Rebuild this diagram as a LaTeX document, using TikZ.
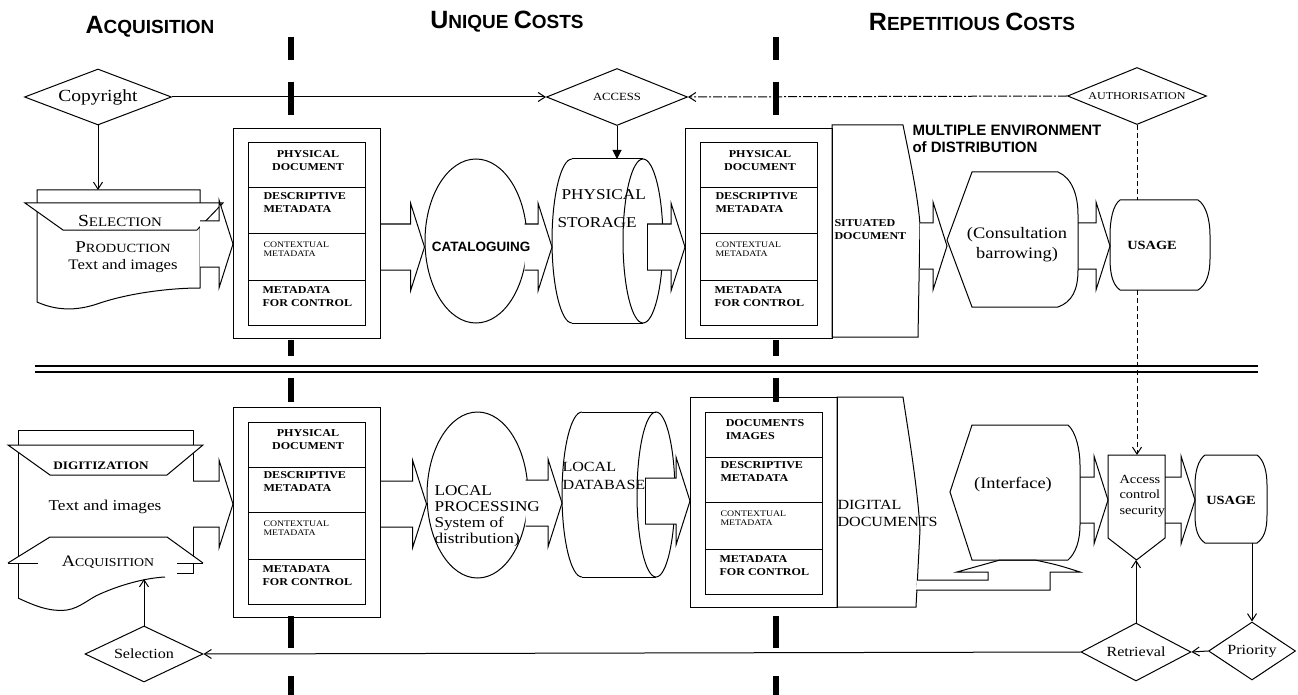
\documentclass[tikz,border=0pt]{standalone}
\usepackage{fontspec}
\setmainfont{Liberation Serif}[FakeStretch=1.15]
\setsansfont{Liberation Sans}
\usetikzlibrary{arrows.meta,calc,shapes.geometric}

\newcommand{\fsz}[2]{\fontsize{#1}{#2}\selectfont}
\newcommand{\hsc}[2]{{\fsz{25}{25}#1}{\fsz{19}{19}#2}}
\newcommand{\fsc}[4]{{\fsz{#1}{#1}#3}{\fsz{#2}{#2}#4}}

\newcommand{\metabox}[5]{%
  \node[draw, minimum width=147pt, minimum height=210pt, anchor=north west] (#1) at (#2,#3) {};
  \begin{scope}[shift={(#2,#3)}]
    \draw (15,15) rectangle (132,197);
    \draw (15,60) -- (132,60) (15,105) -- (132,105) (15,152) -- (132,152);
    \node[cell, anchor=center, #4] (#1-a) at (75,33) {#5};
    \node[cell] (#1-b) at (30,75) {DESCRIPTIVE\\METADATA};
    \node[cell, font=\fsz{8.5}{9.5}] (#1-c) at (30,121) {CONTEXTUAL\\METADATA};
    \node[cell] (#1-d) at (29,169) {METADATA\\FOR CONTROL};
  \end{scope}}

\newcommand{\blockarr}[3]{%
  \draw[blk] ($(#1 |- 0,#3)+(0,-23)$) -- ($(#2 |- 0,#3)+(-14,-23)$) -- ++(0,-21)
    -- (#2 |- 0,#3) -- ($(#2 |- 0,#3)+(-14,44)$) -- ++(0,-21) -- ($(#1 |- 0,#3)+(0,23)$);}

\begin{document}
\begin{tikzpicture}[x=1pt, y=-1pt, line width=1pt,
every node/.style={inner sep=0pt},
dia/.style={diamond, draw, fill=white, aspect=2.5},
shapebox/.style={outer sep=0pt},
cell/.style={font=\bfseries\fsz{10.5}{13}, align=left, anchor=west},
blk/.style={draw, fill=white},
barb/.style={-{Straight Barb[length=7pt,width=9pt]}},
bar/.style={line width=6pt},
hdr/.style={font=\sffamily\bfseries}
]
\useasboundingbox (0,0) rectangle (1298,695);

\node[hdr] (hacq) at (150,27) {\hsc{A}{CQUISITION}};
\node[hdr] (huni) at (507,22) {\hsc{U}{NIQUE }\hsc{C}{OSTS}};
\node[hdr] (hrep) at (972,22) {\hsc{R}{EPETITIOUS }\hsc{C}{OSTS}};

% decisions
\node[dia, minimum width=147pt, minimum height=56pt, font=\fsz{17}{17}] (cpy) at (98,97) {Copyright};
\node[dia, minimum width=141pt, minimum height=57pt, font=\fsz{11}{11}] (acc) at (617,97) {ACCESS};
\node[dia, minimum width=139pt, minimum height=57pt, font=\fsz{10.5}{11}] (auth) at (1137,96) {AUTHORISATION};
\node[dia, minimum width=118pt, minimum height=56pt, font=\fsz{14}{14}] (sel) at (144,654) {Selection};
\node[dia, minimum width=110pt, minimum height=58pt, font=\fsz{14}{14}] (ret) at (1136,652) {Retrieval};
\node[dia, minimum width=87pt, minimum height=58pt, font=\fsz{14}{14}] (pri) at (1252,651) {Priority};

% metadata
\metabox{meta1}{233}{128}{align=center}{PHYSICAL\\DOCUMENT}
\metabox{meta3}{685}{128}{align=center}{PHYSICAL\\DOCUMENT}
\metabox{meta2}{233}{407}{align=center}{PHYSICAL\\DOCUMENT}
\metabox{meta4}{690}{397}{align=left}{DOCUMENTS\\IMAGES}

\node[ellipse, draw, minimum width=102pt, minimum height=164pt] (cat) at (476,241) {};
\node[ellipse, draw, minimum width=101pt, minimum height=166pt] (lp) at (477.5,495) {};

\node[shapebox, minimum width=163pt, minimum height=98pt] (prod) at (118.5,239) {};
\node[shapebox, minimum width=175pt, minimum height=168pt] (digi) at (105.5,514) {};
\node[shapebox, minimum width=111pt, minimum height=164pt] (store) at (607.5,241) {};
\node[shapebox, minimum width=113pt, minimum height=165pt] (db) at (618.5,494.5) {};
\node[shapebox, minimum width=88pt, minimum height=212pt] (sit) at (876,231) {};
\node[shapebox, minimum width=83pt, minimum height=210pt] (digdoc) at (878.5,502) {};
\node[shapebox, minimum width=131pt, minimum height=135pt] (cons) at (1012.5,239.5) {};
\node[shapebox, minimum width=130pt, minimum height=135pt] (intf) at (1015,492.5) {};
\node[shapebox, minimum width=100pt, minimum height=90pt] (use1) at (1160,245) {};
\node[shapebox, minimum width=72pt, minimum height=88pt] (use2) at (1231,499) {};
\node[shapebox, minimum width=57pt, minimum height=105pt] (accs) at (1136.5,507.5) {};
\coordinate (catR) at ($(cat.east)+(-3,0)$);
\coordinate (lpR) at ($(lp.east)+(-3,0)$);
\coordinate (storeR) at ($(store.east)+(-16,0)$);
\coordinate (dbR) at ($(db.east)+(-30,0)$);
\coordinate (wave) at (144,579);

% documents
\draw (37,190) -- (200,190) -- (200,288) .. controls (170,288) and (130,293) .. (100,303)
  .. controls (75,312) and (55,310) .. (37,302) -- cycle;
\draw[fill=white] (25,203) -- (223,203) -- (197,230) -- (63,230) -- cycle;
\draw (18,598) -- (18,430) -- (193,430) -- (193,566);
\draw (18,598) .. controls (35,606) and (50,612) .. (67,610) .. controls (80,608) and (90,598) .. (100,594)
  .. controls (120,585) and (145,578) .. (165,577);
\draw[fill=white] (8,445) -- (203,445) -- (167,475) -- (50,475) -- cycle;
\fill[white] (8,563) -- (50,537) -- (167,537) -- (203,563) -- cycle;
\draw (8,563) -- (50,537) -- (167,537) -- (203,563);
\draw (8,563) -- (38,563) (177,563) -- (203,563) (177,573) -- (193,573) -- (193,563);

% drums
\draw (572,159) -- (643,159) (572,323) -- (643,323);
\draw (572,159) .. controls (561,159) and (552,196) .. (552,241) .. controls (552,286) and (561,323) .. (572,323);
\draw (643,241) ellipse [x radius=20, y radius=82];
\draw (582,412) -- (656,412) (582,577) -- (656,577);
\draw (582,412) .. controls (571,412) and (562,449) .. (562,494.5) .. controls (562,540) and (571,577) .. (582,577);
\draw (656,494.5) ellipse [x radius=19, y radius=82.5];

\draw (832,125) -- (903,125) .. controls (908,150) and (918,195) .. (920,225) -- (918,337) -- (832,337) -- cycle;
\draw (837,397) -- (903,397) .. controls (908,430) and (918,490) .. (920,530) -- (916,607) -- (837,607) -- cycle;

% block arrows
\blockarr{prod.east}{meta1.west}{244}
\blockarr{meta1.east}{cat.west}{247}
\blockarr{catR}{store.west}{247}
\blockarr{storeR}{meta3.west}{247}
\draw (storeR |- 0,224) -- (storeR |- 0,270);
\blockarr{sit.east}{cons.west}{246}
\blockarr{cons.east}{use1.west}{246}
\blockarr{digi.east}{meta2.west}{504}
\blockarr{meta2.east}{lp.west}{504}
\blockarr{lpR}{db.west}{503}
\blockarr{dbR}{meta4.west}{501}
\draw (dbR |- 0,478) -- (dbR |- 0,524);
\blockarr{intf.east}{accs.west}{500}
\blockarr{accs.east}{use2.west}{500}
\draw[blk] (917,580) -- (988,580) -- (988,572) -- (957,572) .. controls (978,566) .. (1000,560) -- (1035,560)
  .. controls (1058,565) .. (1080,572) -- (1050,572) -- (1050,590) -- (916,590);

\draw (972,172) -- (1058,172) .. controls (1072,178) and (1078,195) .. (1078,215) -- (1078,270)
  .. controls (1078,290) and (1072,302) .. (1058,307) -- (972,307) -- (947,240) -- cycle;
\draw (972,425) -- (1068,425) .. controls (1076,432) and (1080,450) .. (1080,465) -- (1080,525)
  .. controls (1080,540) and (1076,553) .. (1068,560) -- (972,560) -- (950,492) -- cycle;
\draw (1120,200) -- (1198,200) .. controls (1206,205) and (1210,220) .. (1210,235) -- (1210,258)
  .. controls (1210,275) and (1206,285) .. (1198,290) -- (1120,290) .. controls (1113,285) and (1110,275) .. (1110,258)
  -- (1110,235) .. controls (1110,220) and (1113,205) .. (1120,200) -- cycle;
\draw (1205,455) -- (1257,455) .. controls (1264,460) and (1267,472) .. (1267,485) -- (1267,515)
  .. controls (1267,530) and (1264,538) .. (1257,543) -- (1205,543) .. controls (1198,538) and (1195,530) .. (1195,515)
  -- (1195,485) .. controls (1195,472) and (1198,460) .. (1205,455) -- cycle;
\draw (1108,455) -- (1165,455) -- (1165,538) -- (1136.5,560) -- (1108,538) -- cycle;

% texts
\node (selT) at (120,221) {\fsc{17}{13}{S}{ELECTION}};
\node[align=center, font=\fsz{14.5}{17}] (prodT) at (123,257) {\fsc{16.5}{12.5}{P}{RODUCTION}\\Text and images};
\node[font=\bfseries\fsz{11.5}{12}] (digT) at (101,466) {DIGITIZATION};
\node[font=\fsz{15}{15}] (txtT) at (105,507) {Text and images};
\node (acqT) at (108,562) {\fsc{16}{12}{A}{CQUISITION}};
\node[font=\sffamily\bfseries\fsz{13.5}{14}] (catT) at (481,247) {CATALOGUING};
\node[font=\fsz{15}{15}, anchor=west] (phyT) at (561,195) {PHYSICAL};
\node[font=\fsz{15}{15}, anchor=west] (stoT) at (557,223) {STORAGE};
\node[font=\bfseries\fsz{10.5}{13}, align=left, anchor=west] (sitT) at (834,230) {SITUATED\\DOCUMENT};
\node[font=\sffamily\bfseries\fsz{15}{17}, align=left, anchor=west] (multT) at (912,139) {MULTIPLE ENVIRONMENT\\of DISTRIBUTION};
\node[font=\fsz{16}{20}, align=center] (consT) at (1017,245) {(Consultation\\barrowing)};
\node[font=\bfseries\fsz{12.5}{13}] (use1T) at (1152,245) {USAGE};
\node[font=\fsz{15}{16}, align=left, anchor=west] (lpT) at (434,516) {LOCAL\\PROCESSING\\System of\\distribution)};
\node[font=\fsz{14}{18}, align=left, anchor=west] (dbT) at (562,476) {LOCAL\\DATABASE};
\node[font=\fsz{14}{17}, align=left, anchor=west] (ddT) at (837,513) {DIGITAL\\DOCUMENTS};
\node[font=\fsz{16}{16}] (intfT) at (1013,485) {(Interface)};
\node[font=\fsz{12.5}{15.5}, align=left, anchor=west] (accT) at (1119,496) {Access\\control\\security};
\node[font=\bfseries\fsz{12.5}{13}] (use2T) at (1231,500) {USAGE};

% flows
\draw[barb] (cpy.east) -- (acc.west);
\draw[barb, dash pattern=on 9pt off 2pt on 2pt off 2pt] (auth.west) -- (acc.east);
\draw[-{Triangle[length=9pt,width=9pt]}] (acc.south) -- (acc.south |- store.north);
\draw[barb] (cpy.south) -- (cpy.south |- prod.north);
\draw[dash pattern=on 5pt off 3pt] (auth.south) -- (auth.south |- use1.north);
\draw[barb, dash pattern=on 5pt off 3pt] (auth.south |- use1.south) -- (auth.south |- accs.north);
\draw[barb] (ret.north) -- (ret.north |- accs.south);
\draw[barb] (pri.north |- use2.south) -- (pri.north);
\draw[barb] (pri.west) -- (ret.east);
\draw[barb] (ret.west) -- (sel.east);
\draw[barb] (sel.north) -- (wave);

\foreach \x in {291,776}
  \foreach \a/\b in {37/60,82/115,340/356,378/402,616/648,676/695}
    \draw[bar] (\x,\a) -- (\x,\b);
\draw[line width=2pt] (35,366) -- (1258,366) (35,371.5) -- (1258,371.5);
\end{tikzpicture}
\end{document}
